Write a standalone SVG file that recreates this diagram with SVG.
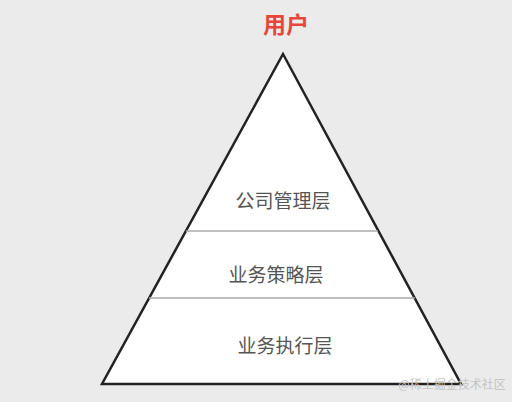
<svg xmlns="http://www.w3.org/2000/svg" width="512" height="402" viewBox="0 0 512 402">
<style>
.lbl{font-family:"Noto Sans CJK SC","Noto Sans",sans-serif;font-size:19px;fill:#555;text-anchor:middle}
.div{stroke:#aaa;stroke-width:1.5;fill:none}
</style>
<rect width="512" height="402" fill="#ebebeb"/>
<g id="title"><text x="286" y="33" font-family="'Noto Sans CJK SC',sans-serif" font-size="23" font-weight="bold" fill="#e8463a" text-anchor="middle">用户</text></g>
<g id="pyramid">
<polygon points="283,54 102,384 461,384" fill="#fff" stroke="#222" stroke-width="2.5" stroke-linejoin="miter"/>
</g>
<g id="connectors">
<line class="div" x1="186" y1="231" x2="378" y2="231"/>
<line class="div" x1="149" y1="298" x2="415" y2="298"/>
</g>
<g id="layer1"><text class="lbl" x="283" y="208">公司管理层</text></g>
<g id="layer2"><text class="lbl" x="276" y="282">业务策略层</text></g>
<g id="layer3"><text class="lbl" x="285" y="353">业务执行层</text></g>
<g id="watermark"><text x="452" y="389" font-family="'Noto Sans CJK SC',sans-serif" font-size="12" fill="#c4c4c4" text-anchor="middle">@稀土掘金技术社区</text></g>
</svg>
